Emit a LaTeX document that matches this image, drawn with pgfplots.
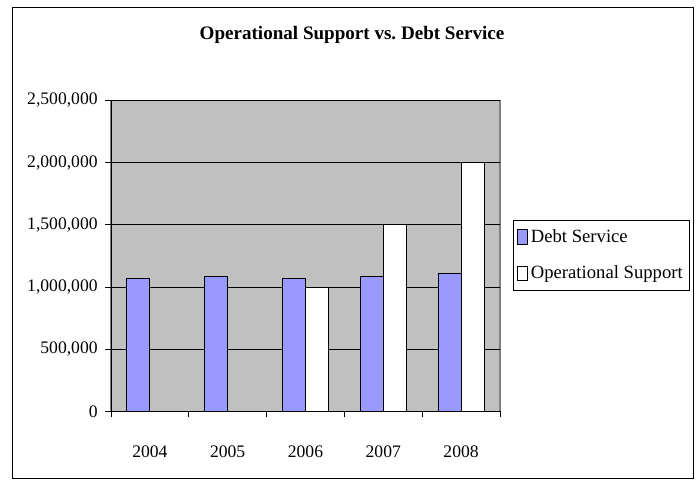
\documentclass[border=0pt]{standalone}
\usepackage{pgfplots}
\pgfplotsset{compat=1.18}
\usepackage{fontspec}
\setmainfont{Liberation Serif}

\definecolor{plotgray}{HTML}{C0C0C0}
\definecolor{debtblue}{HTML}{9999FF}
\definecolor{framegray}{HTML}{808080}

\begin{document}
\begin{tikzpicture}
\useasboundingbox (0pt,0pt) rectangle (522.75pt,360pt);
\draw[black, line width=0.75pt] (9pt,1.5pt) rectangle (519.75pt,354.75pt);
\node[font=\bfseries\fontsize{14.3}{17}\selectfont] at (264pt,333.5pt)
  {Operational Support vs.\ Debt Service};

\begin{axis}[
  at={(83.25pt,51.4pt)}, anchor=south west,
  scale only axis,
  width=291.75pt, height=233.25pt,
  xmin=-0.5, xmax=4.5,
  ymin=0, ymax=2500000,
  axis x line*=bottom, axis y line*=left,
  axis line style={black, -, line width=0.6pt},
  axis background/.style={fill=plotgray, draw=framegray, line width=0.9pt},
  ybar=0pt, bar width=0.296,
  ytick={0,500000,1000000,1500000,2000000,2500000},
  ymajorgrids, major grid style={black, line width=0.6pt},
  tick align=outside, major tick length=4.5pt,
  tick style={black, line width=0.6pt},
  xtick={-0.5,0.5,1.5,2.5,3.5,4.5}, xticklabels={},
  extra x ticks={0,1,2,3,4},
  extra x tick labels={2004,2005,2006,2007,2008},
  extra x tick style={major tick length=0pt},
  xticklabel style={yshift=-22pt},
  scaled y ticks=false,
  /pgf/number format/assume math mode=true,
  yticklabel style={xshift=-2pt, /pgf/number format/.cd, fixed, 1000 sep={,}},
  ticklabel style={font=\fontsize{13.2}{15}\selectfont},
  legend style={at={(1.0334,0.6158)}, anchor=north west,
    draw=black, fill=white, line width=0.6pt,
    font=\fontsize{14}{16}\selectfont,
    inner xsep=3pt, inner ysep=5pt, row sep=12pt},
  legend cell align=left,
]
\addplot[fill=debtblue, draw=black, line width=0.6pt,
  legend image code/.code={\draw[fill=debtblue, draw=black, line width=0.6pt] (0pt,-5.5pt) rectangle (7.5pt,5.5pt);}]
  coordinates {(0,1072000) (1,1086000) (2,1072000) (3,1086000) (4,1113000)};
\addlegendentry{Debt Service}
\addplot[fill=white, draw=black, line width=0.6pt,
  legend image code/.code={\draw[fill=white, draw=black, line width=0.6pt] (0pt,-5.5pt) rectangle (7.5pt,5.5pt);}]
  coordinates {(2,1000000) (3,1500000) (4,2000000)};
\addlegendentry{Operational Support}
\end{axis}
\end{tikzpicture}
\end{document}
